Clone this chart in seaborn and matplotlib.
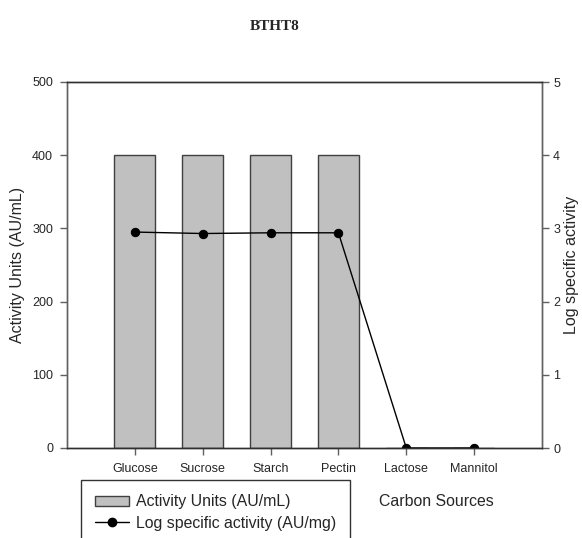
import matplotlib
matplotlib.use("Agg")
import matplotlib.pyplot as plt
import seaborn as sns
from matplotlib.patches import Patch
from matplotlib.lines import Line2D

categories = ["Glucose", "Sucrose", "Starch", "Pectin", "Lactose", "Mannitol"]
activity_units = [400, 400, 400, 400, 0, 0]
log_specific = [2.95, 2.93, 2.94, 2.94, 0, 0]
left_ticks = [0, 100, 200, 300, 400, 500]
right_ticks = [0, 1, 2, 3, 4, 5]

sns.set_style("ticks")
plt.rcParams["font.family"] = ["Liberation Sans", "DejaVu Sans"]

W, H = 582, 538
fig = plt.figure(figsize=(W / 100, H / 100), dpi=100)
ax = fig.add_axes([67 / W, 1 - 448 / H, (542 - 67) / W, (448 - 82) / H])

spine_c = "#606060"
sns.barplot(x=categories, y=activity_units, ax=ax, width=0.6, color="#c0c0c0",
            edgecolor="#404040", linewidth=1.0, saturation=1)
ax.set_xlim(-1, 6)
ax.set_ylim(0, 500)
ax.set_yticks(left_ticks)
ax.set_ylabel("Activity Units (AU/mL)", fontsize=11.5, labelpad=5)
ax.set_xlabel("")

ax2 = ax.twinx()
sns.lineplot(x=categories, y=log_specific, ax=ax2, color="black", marker="o",
             markersize=6, linewidth=1.0, sort=False, markeredgecolor="black")
ax2.set_xlim(-1, 6)
ax2.set_ylim(0, 5)
ax2.set_yticks(right_ticks)
ax2.set_ylabel("Log specific activity", fontsize=11.5, labelpad=3)

for a in (ax, ax2):
    for s in a.spines.values():
        s.set_visible(True)
        s.set_color(spine_c)
        s.set_linewidth(1.0)
    a.spines["top"].set_color("#303030")
    a.spines["bottom"].set_color("#303030")
    a.tick_params(length=5, width=1, color=spine_c, labelsize=9, pad=5)

ax.tick_params(axis="x", pad=6)
ax2.tick_params(axis="y", pad=3)

fig.text(275 / W, 1 - 27 / H, "BTHT8", fontsize=11, fontweight="bold",
         family=["Liberation Serif", "DejaVu Serif"], ha="center", va="center")
fig.text(436 / W, 1 - 502 / H, "Carbon Sources", fontsize=11.4, ha="center", va="center")

handles = [
    Patch(facecolor="#c0c0c0", edgecolor="#404040", linewidth=1.0),
    Line2D([0], [0], color="black", marker="o", markersize=6, linewidth=1.0),
]
labels = ["Activity Units (AU/mL)", "Log specific activity (AU/mg)"]
leg = fig.legend(handles, labels, loc="upper left", bbox_to_anchor=(81 / W, 1 - 480 / H),
                 fontsize=11.4, frameon=True, fancybox=False, edgecolor="black",
                 handlelength=2.1, handleheight=0.6, borderpad=0.9, labelspacing=0.4,
                 handletextpad=0.45, borderaxespad=0)
leg.get_frame().set_linewidth(1.0)

fig.savefig("out.png", dpi=100)
